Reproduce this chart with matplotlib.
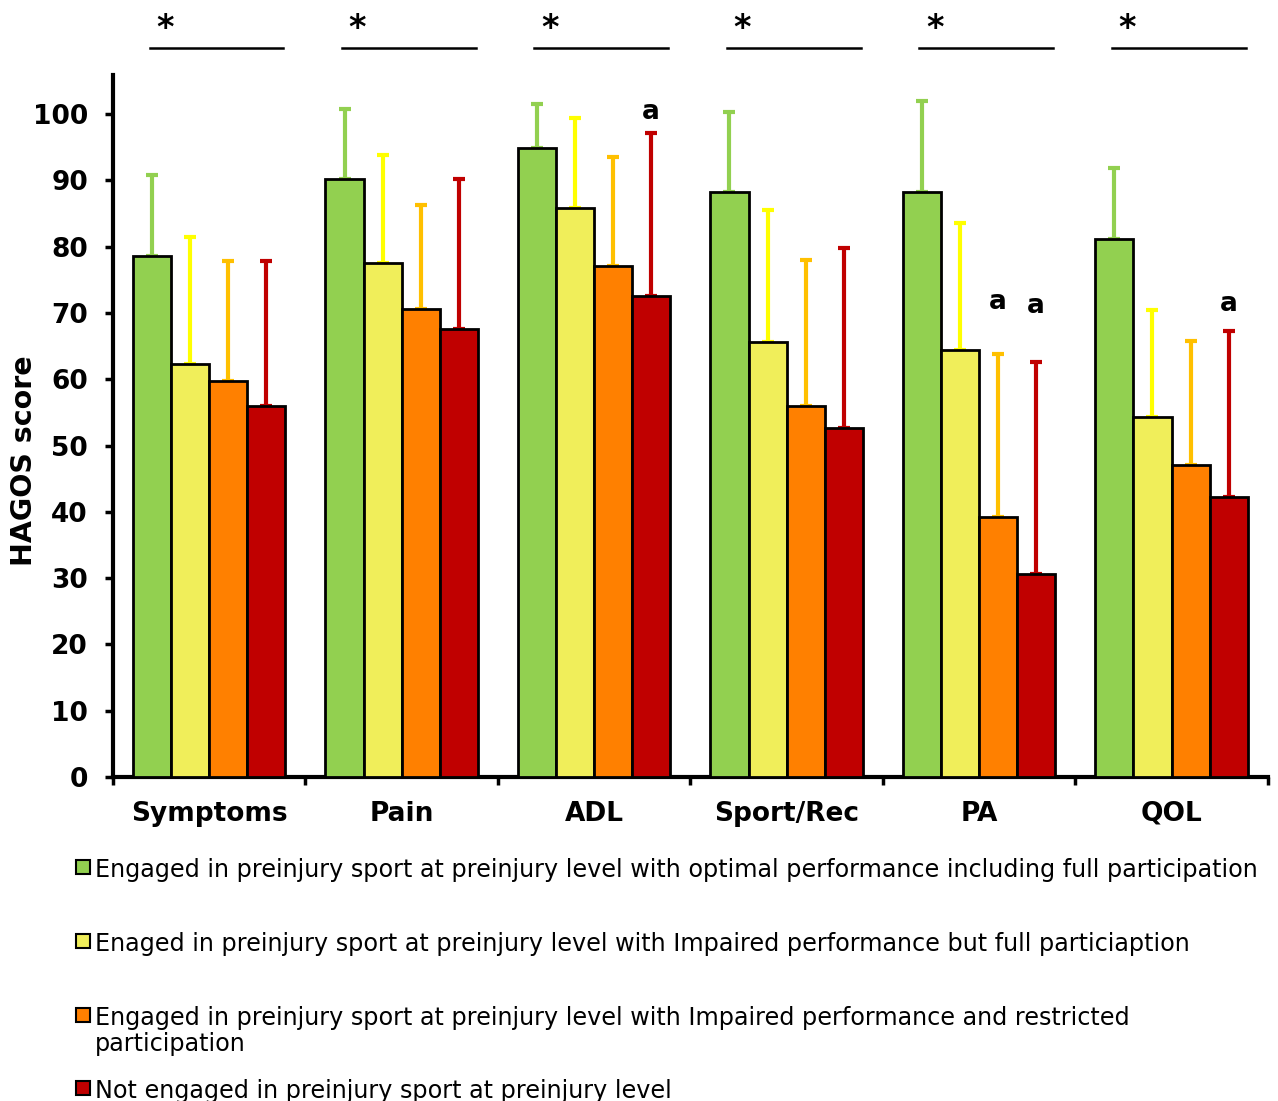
import numpy as np
import matplotlib.pyplot as plt
from matplotlib.patches import Rectangle

plt.rcParams["font.family"] = ["DejaVu Sans"]

# HAGOS subscales
categories = ["Symptoms", "Pain", "ADL", "Sport/Rec", "PA", "QOL"]

# mean scores per group
full_perf = [78.6, 90.2, 94.9, 88.2, 88.2, 81.1]
impaired_full = [62.3, 77.5, 85.8, 65.6, 64.4, 54.3]
impaired_restricted = [59.7, 70.6, 77.1, 56.0, 39.2, 47.1]
not_engaged = [56.0, 67.6, 72.5, 52.6, 30.6, 42.2]

# upper SD (error bar length)
full_perf_sd = [12.2, 10.6, 6.6, 12.1, 13.8, 10.8]
impaired_full_sd = [19.1, 16.3, 13.7, 19.9, 19.2, 16.1]
impaired_restricted_sd = [18.1, 15.7, 16.4, 22.0, 24.6, 18.7]
not_engaged_sd = [21.8, 22.6, 24.6, 27.2, 32.0, 25.1]

legend_labels = [
    "Engaged in preinjury sport at preinjury level with optimal performance including full participation",
    "Enaged in preinjury sport at preinjury level with Impaired performance but full particiaption",
    "Engaged in preinjury sport at preinjury level with Impaired performance and restricted\nparticipation",
    "Not engaged in preinjury sport at preinjury level",
]

bar_colors = ["#92D050", "#F0EE5A", "#FF8000", "#C00000"]
err_colors = ["#92D050", "#FFFF00", "#FFC000", "#C00000"]

# "a" markers: (category index, group index, label height)
a_marks = [(2, 3, 100.3), (4, 2, 71.7), (4, 3, 71.0), (5, 3, 71.4)]

means = [full_perf, impaired_full, impaired_restricted, not_engaged]
sds = [full_perf_sd, impaired_full_sd, impaired_restricted_sd, not_engaged_sd]

fig = plt.figure(figsize=(12.78, 11.01), dpi=100)
ax = fig.add_axes([0.0884, 0.2943, 0.9036, 0.6375])

x = np.arange(len(categories))
w = 0.198
offsets = (np.arange(4) - 1.5) * w

for g in range(4):
    xs = x + offsets[g]
    ax.bar(xs, means[g], width=w, color=bar_colors[g], edgecolor="black",
           linewidth=2, zorder=3)
    ax.errorbar(xs, means[g], yerr=[np.zeros(len(x)), sds[g]], fmt="none",
                ecolor=err_colors[g], elinewidth=3, capsize=4.5, capthick=3,
                zorder=2)

for ci, gi, ay in a_marks:
    ax.text(x[ci] + offsets[gi], ay, "a", ha="center", va="center",
            fontsize=19, fontweight="bold")

# significance stars and lines above each subscale
for i in x:
    ax.plot([i - 0.31, i + 0.385], [110.0, 110.0], color="black", lw=1.8,
            clip_on=False)
    ax.text(i - 0.23, 110.4, "*", ha="center", va="bottom", fontsize=24,
            fontweight="bold", clip_on=False)

ax.set_xlim(-0.5, 5.5)
ax.set_ylim(0, 105.9)
ax.set_yticks(np.arange(0, 101, 10))
ax.set_xticks(np.arange(-0.5, 6, 1))
ax.set_xticklabels([])
ax.set_xticks(x, minor=True)
ax.set_xticklabels(categories, minor=True, fontsize=19, fontweight="bold")
ax.tick_params(axis="x", which="major", length=6, width=2.5, direction="out")
ax.tick_params(axis="x", which="minor", length=0, pad=17)
ax.tick_params(axis="y", length=6, width=2.5, direction="out", pad=12,
               labelsize=19)
for lab in ax.get_yticklabels():
    lab.set_fontweight("bold")

for s in ["top", "right"]:
    ax.spines[s].set_visible(False)
for s in ["left", "bottom"]:
    ax.spines[s].set_linewidth(3)

ax.set_ylabel("HAGOS score", fontsize=20.5, fontweight="bold")
ax.yaxis.set_label_coords(-0.065, 0.45)

# legend drawn by hand (uneven spacing in the original)
leg_y = [0.2125, 0.1453, 0.0781, 0.0118]
for lab, col, ly in zip(legend_labels, bar_colors, leg_y):
    fig.add_artist(Rectangle((0.0595, ly - 0.0062), 0.0108, 0.0125,
                             facecolor=col, edgecolor="black", lw=1.5,
                             transform=fig.transFigure))
    fig.text(0.0743, ly + 0.0085, lab, ha="left", va="top", fontsize=17.2,
             linespacing=1.1)

fig.savefig("out.png", dpi=100)
